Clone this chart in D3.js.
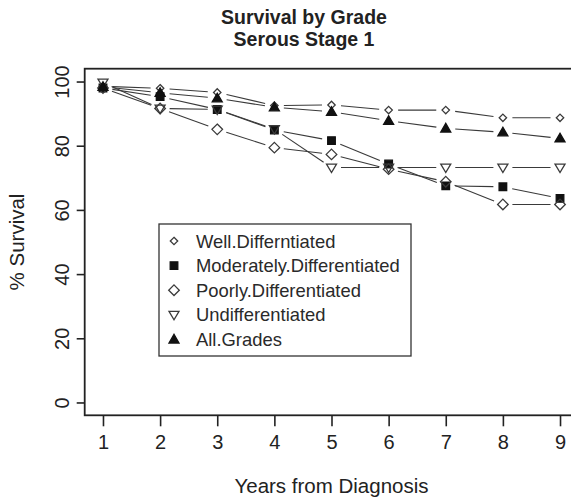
<!DOCTYPE html>
<html>
<head>
<meta charset="utf-8">
<script src="https://cdn.jsdelivr.net/npm/d3@7"></script>
<style>
  html, body { margin: 0; padding: 0; background: #fff; }
  svg { display: block; font-family: "Liberation Sans", Arial, sans-serif; }
</style>
</head>
<body>
<svg id="chart" width="571" height="502"></svg>
<script>
const years = [1, 2, 3, 4, 5, 6, 7, 8, 9];
const wellDiff = [98.5, 97.9, 96.6, 92.5, 92.7, 91.1, 91.1, 88.7, 88.7];
const moderatelyDiff = [98.0, 95.3, 91.3, 84.9, 81.6, 74.3, 67.5, 67.2, 63.6];
const poorlyDiff = [98.0, 91.6, 85.1, 79.4, 77.3, 72.7, 68.8, 61.7, 61.7];
const undiff = [99.7, 91.6, 91.3, 85.2, 73.2, 73.2, 73.2, 73.2, 73.2];
const allGrades = [98.4, 96.5, 94.8, 92.0, 90.6, 87.8, 85.4, 84.2, 82.3];
const seriesNames = ["Well.Differntiated", "Moderately.Differentiated", "Poorly.Differentiated", "Undifferentiated", "All.Grades"];
const yTicks = [0, 20, 40, 60, 80, 100];
const titleLines = ["Survival by Grade", "Serous Stage 1"];
const xTitle = "Years from Diagnosis";
const yTitle = "% Survival";

const series = [
  { name: seriesNames[0], values: wellDiff, shape: "smallDiamond" },
  { name: seriesNames[1], values: moderatelyDiff, shape: "square" },
  { name: seriesNames[2], values: poorlyDiff, shape: "diamond" },
  { name: seriesNames[3], values: undiff, shape: "triDown" },
  { name: seriesNames[4], values: allGrades, shape: "triUp" }
];

const svg = d3.select("#chart");
const ink = "#222";
const lineInk = "#3a3a3a";

const plot = { left: 84.7, right: 578.3, top: 68.7, bottom: 415.3 };
const x = d3.scaleLinear().domain([0.68, 9.32]).range([plot.left, plot.right]);
const y = d3.scaleLinear().domain([-4, 104]).range([plot.bottom, plot.top]);

function symbolPath(shape) {
  switch (shape) {
    case "smallDiamond": return "M0,-3.7L3.7,0L0,3.7L-3.7,0Z";
    case "diamond": return "M0,-5.3L5.3,0L0,5.3L-5.3,0Z";
    case "square": return "M-3.8,-3.8H3.8V3.8H-3.8Z";
    case "triDown": return "M-5,-3.4L5,-3.4L0,5Z";
    case "triUp": return "M-5,3.6L5,3.6L0,-5Z";
  }
}
function filled(shape) { return shape === "square" || shape === "triUp"; }

function drawMarker(g, shape, cx, cy) {
  g.append("path")
    .attr("d", symbolPath(shape))
    .attr("transform", `translate(${cx},${cy})`)
    .attr("fill", filled(shape) ? "#111" : "#fff")
    .attr("fill-opacity", filled(shape) ? 1 : 0)
    .attr("stroke", filled(shape) ? "#111" : "#3a3a3a")
    .attr("stroke-width", 1.3);
}

// Title
svg.append("text").attr("x", 304).attr("y", 24).attr("text-anchor", "middle")
  .attr("font-size", 19.5).attr("font-weight", "bold").attr("fill", ink).text(titleLines[0]);
svg.append("text").attr("x", 304).attr("y", 46).attr("text-anchor", "middle")
  .attr("font-size", 19.5).attr("font-weight", "bold").attr("fill", ink).text(titleLines[1]);

// Box
svg.append("rect")
  .attr("x", plot.left).attr("y", plot.top)
  .attr("width", plot.right - plot.left).attr("height", plot.bottom - plot.top)
  .attr("fill", "none").attr("stroke", ink).attr("stroke-width", 1.8);

// X axis
const xAxis = d3.axisBottom(x).tickValues(years).tickSize(11).tickPadding(9).tickFormat(d3.format("d"));
const gx = svg.append("g").attr("transform", `translate(0,${plot.bottom})`).call(xAxis);
gx.select(".domain").remove();
gx.selectAll(".tick line").attr("stroke", ink).attr("stroke-width", 1.6);
gx.selectAll(".tick text").attr("font-size", 20).attr("fill", ink).attr("font-family", "Liberation Sans, Arial, sans-serif");

// Y axis
const yAxis = d3.axisLeft(y).tickValues(yTicks).tickSize(8).tickFormat(d3.format("d"));
const gy = svg.append("g").attr("transform", `translate(${plot.left},0)`).call(yAxis);
gy.select(".domain").remove();
gy.selectAll(".tick line").attr("stroke", ink).attr("stroke-width", 1.6);
gy.selectAll(".tick text")
  .attr("font-size", 20).attr("fill", ink).attr("font-family", "Liberation Sans, Arial, sans-serif")
  .attr("x", null).attr("dy", null)
  .attr("text-anchor", "middle")
  .attr("dominant-baseline", "central")
  .attr("transform", "translate(-23,0) rotate(-90)");

// Axis titles
svg.append("text").attr("x", (plot.left + plot.right) / 2).attr("y", 493)
  .attr("text-anchor", "middle").attr("font-size", 20.5).attr("fill", ink).text(xTitle);
svg.append("text").attr("transform", `translate(24,${(plot.top + plot.bottom) / 2}) rotate(-90)`)
  .attr("text-anchor", "middle").attr("font-size", 20.5).attr("fill", ink).text(yTitle);

// Series lines (type "b": gaps around points)
const gap = 9.5;
const lineG = svg.append("g");
series.forEach(s => {
  for (let i = 0; i < years.length - 1; i++) {
    const x1 = x(years[i]), y1 = y(s.values[i]);
    const x2 = x(years[i + 1]), y2 = y(s.values[i + 1]);
    const dx = x2 - x1, dy = y2 - y1, len = Math.hypot(dx, dy);
    if (len <= 2 * gap) continue;
    const ux = dx / len, uy = dy / len;
    lineG.append("line")
      .attr("x1", x1 + ux * gap).attr("y1", y1 + uy * gap)
      .attr("x2", x2 - ux * gap).attr("y2", y2 - uy * gap)
      .attr("stroke", lineInk).attr("stroke-width", 1.1);
  }
});

// Markers
const markG = svg.append("g");
series.forEach(s => {
  s.values.forEach((v, i) => drawMarker(markG, s.shape, x(years[i]), y(v)));
});

// Legend
const leg = { x: 159, y: 224, w: 252, h: 132 };
svg.append("rect").attr("x", leg.x).attr("y", leg.y).attr("width", leg.w).attr("height", leg.h)
  .attr("fill", "#fff").attr("stroke", "#333").attr("stroke-width", 1.3);
const legG = svg.append("g");
series.forEach((s, i) => {
  const cy = 241 + i * 24.6;
  drawMarker(legG, s.shape, 174, cy);
  legG.append("text").attr("x", 196).attr("y", cy).attr("dominant-baseline", "central")
    .attr("font-size", 18.4).attr("fill", "#2a2a2a").text(s.name);
});
</script>
</body>
</html>
